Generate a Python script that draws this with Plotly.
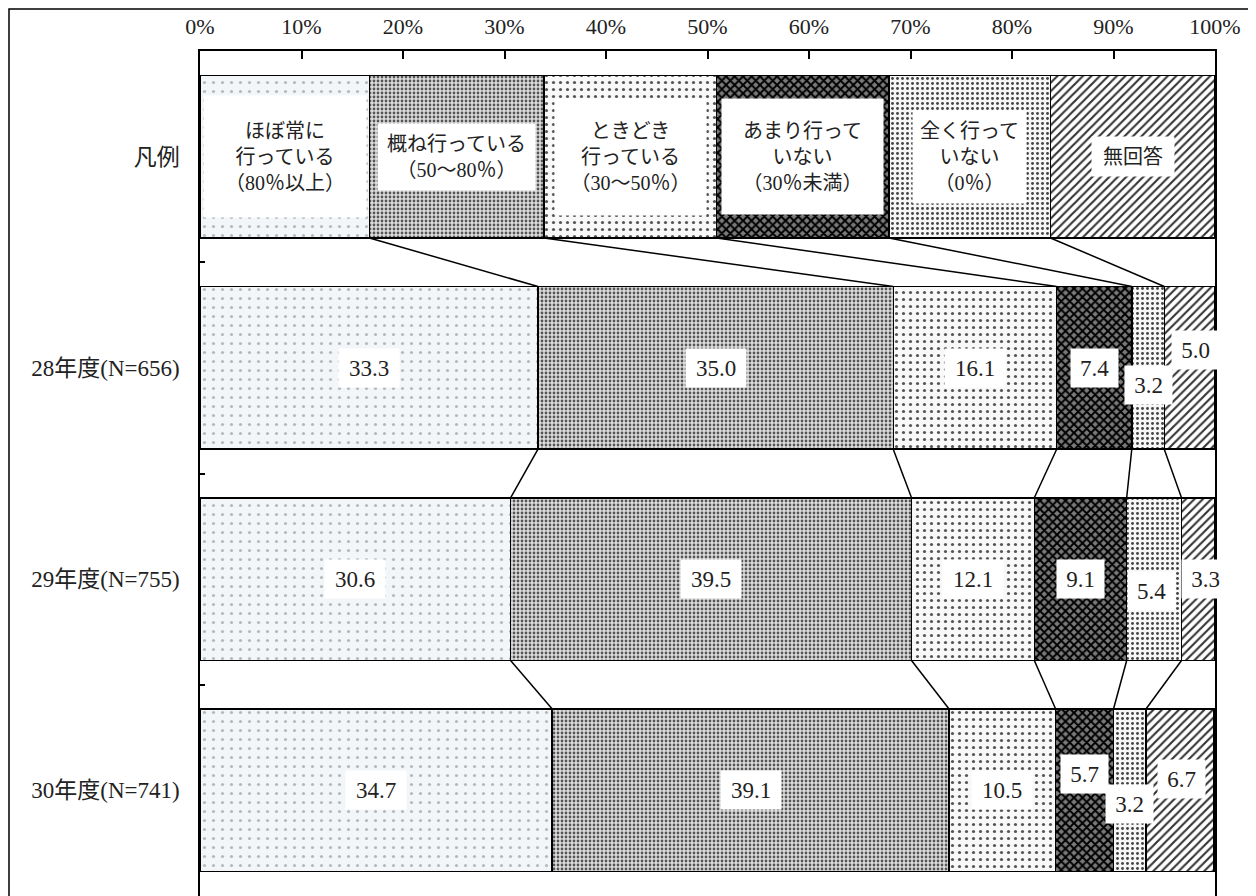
import plotly.graph_objects as go

# answer options (legend row text)
answers = [
    "ほぼ常に<br>行っている<br>（80％以上）",
    "概ね行っている<br>（50～80％）",
    "ときどき<br>行っている<br>（30～50％）",
    "あまり行って<br>いない<br>（30％未満）",
    "全く行って<br>いない<br>（0％）",
    "無回答",
]
rows = ["凡例", "28年度(N=656)", "29年度(N=755)", "30年度(N=741)"]

# legend row widths (%)
legend_w = [16.7, 17.2, 17.0, 17.0, 15.9, 16.2]
y28 = [33.3, 35.0, 16.1, 7.4, 3.2, 5.0]
y29 = [30.6, 39.5, 12.1, 9.1, 5.4, 3.3]
y30 = [34.7, 39.1, 10.5, 5.7, 3.2, 6.7]
x_ticks = [0, 10, 20, 30, 40, 50, 60, 70, 80, 90, 100]

table = [legend_w, y28, y29, y30]

FONT = "Liberation Serif, Noto Sans CJK JP"
BW = 0.77

patterns = [
    dict(shape=".", fgcolor="#b4babe", bgcolor="#f3f6f8", size=9, solidity=0.1),
    dict(shape=".", fgcolor="#555555", bgcolor="#dddddd", size=4, solidity=0.38),
    dict(shape=".", fgcolor="#555555", bgcolor="#f8f8f8", size=7, solidity=0.16),
    dict(shape="x", fgcolor="#000000", bgcolor="#7a7a7a", size=6, solidity=0.55),
    dict(shape=".", fgcolor="#444444", bgcolor="#f6f6f6", size=5, solidity=0.26),
    dict(shape="/", fgcolor="#333333", bgcolor="#ffffff", size=6, solidity=0.35),
]

fig = go.Figure()

for k in range(len(answers)):
    p = patterns[k]
    fig.add_trace(go.Bar(
        orientation="h",
        y=list(range(len(rows))),
        x=[r[k] for r in table],
        width=BW,
        marker=dict(color=p["bgcolor"], line=dict(color="black", width=1.5),
                    pattern=dict(p, fillmode="replace")),
        showlegend=False, hoverinfo="skip",
    ))

# cumulative boundaries
cums = []
for r in table:
    c, s = [], 0
    for v in r:
        s += v
        c.append(s)
    cums.append(c)

# connecting lines between rows
lx, ly = [], []
for i in range(len(table) - 1):
    for k in range(len(answers) - 1):
        lx += [cums[i][k], cums[i + 1][k], None]
        ly += [i + BW / 2, i + 1 - BW / 2, None]
fig.add_trace(go.Scatter(x=lx, y=ly, mode="lines", line=dict(color="black", width=1.5),
                         showlegend=False, hoverinfo="skip"))

annots = []
# legend row labels
box = [(160, 119), (155, 64), (149, 114), (159, 113), (111, 90), (80, 37)]
for k, txt in enumerate(answers):
    annots.append(dict(x=cums[0][k] - legend_w[k] / 2, y=0, xref="x", yref="y", text=txt,
                       showarrow=False, bgcolor="white", width=box[k][0], height=box[k][1],
                       font=dict(family=FONT, size=20, color="#222")))

# value labels
offsets = {(1, 4): (0, -17), (1, 5): (6, 18), (2, 4): (-3, -12), (2, 5): (7, 0),
           (3, 3): (0, 16), (3, 4): (0, -14), (3, 5): (2, 11)}
for i in range(1, len(table)):
    for k, v in enumerate(table[i]):
        t = f"{v:.1f}"
        dx, dy = offsets.get((i, k), (0, 0))
        annots.append(dict(x=cums[i][k] - v / 2, y=i, xref="x", yref="y", text=t,
                           showarrow=False, bgcolor="white", width=13 * len(t) + 6, height=36,
                           xshift=dx, yshift=dy,
                           font=dict(family=FONT, size=23, color="#222")))

W, H = 1248, 888
L, T, PW, PH = 192, 43, 1015, 845

fig.update_layout(
    width=W, height=H,
    margin=dict(l=L, r=W - L - PW, t=T, b=H - T - PH),
    barmode="stack",
    plot_bgcolor="white", paper_bgcolor="white",
    font=dict(family=FONT, size=21, color="#222"),
    annotations=annots,
    shapes=[dict(type="rect", xref="paper", yref="paper",
                 x0=(1 - L) / PW, x1=1.2, y0=-0.1, y1=1 + (T - 1) / PH,
                 line=dict(color="black", width=1.5), fillcolor="rgba(0,0,0,0)", layer="above")],
    xaxis=dict(side="top", range=[0, 100], tickvals=x_ticks, ticktext=[f"{t}%" for t in x_ticks],
               ticks="inside", ticklen=8, tickwidth=1.5, tickcolor="black",
               showline=True, linecolor="black", linewidth=1.5, mirror=False,
               showgrid=False, zeroline=False, ticklabelstandoff=6,
               tickfont=dict(family=FONT, size=22, color="#222")),
    yaxis=dict(range=[3.5, -0.5], tickvals=list(range(len(rows))), ticktext=rows,
               ticks="", showline=True, linecolor="black", linewidth=1.5, mirror=True,
               showgrid=False, zeroline=False, ticklabelstandoff=14,
               minor=dict(tickvals=[0.5, 1.5, 2.5], ticks="inside", ticklen=5,
                          tickwidth=1.5, tickcolor="black"),
               tickfont=dict(family=FONT, size=23, color="#222")),
)

fig.write_html("out.html")
